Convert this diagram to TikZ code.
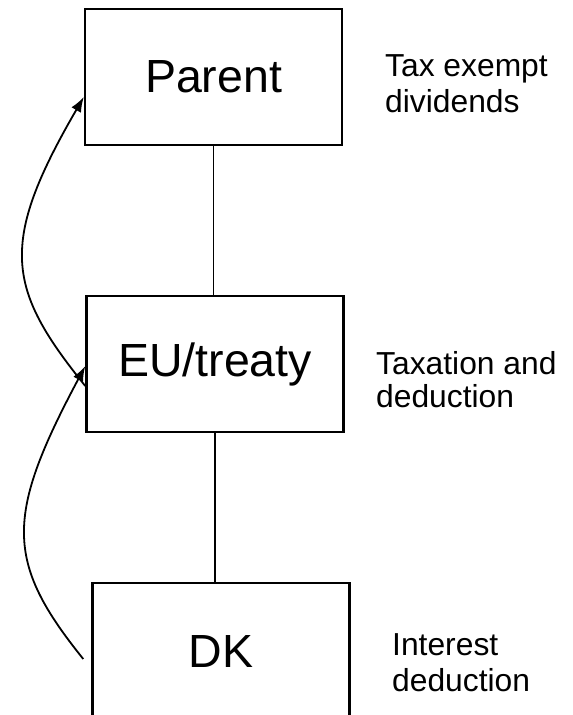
\documentclass[tikz,border=0pt]{standalone}
\usepackage{fontspec}
\setmainfont{Liberation Sans}
\usetikzlibrary{arrows.meta}
\begin{document}
\begin{tikzpicture}[x=1pt,y=-1pt,
  entity/.style={draw=black,line width=2.4pt,minimum width=257pt,minimum height=136pt,inner sep=0pt,font=\fontsize{46.5}{54}\selectfont},
  lbl/.style={anchor=base west,inner sep=0pt,font=\fontsize{31.8}{36}\selectfont},
  link/.style={draw=black,line width=1.8pt},
  flow/.style={draw=black,line width=1.8pt,-{Latex[length=15pt,width=11pt]}}]
\useasboundingbox (0,0) rectangle (573,715);
\fill[white] (0,0) rectangle (573,715);
\node[entity] (parent) at (213.5,77) {Parent};
\node[entity] (eu) at (215,364) {EU/treaty};
\node[entity] (dk) at (221,651) {DK};
\draw[link] (parent.south) -- (parent.south |- eu.north);
\draw[link] (eu.south) -- (eu.south |- dk.north);
\draw[flow] ([yshift=-22pt]eu.west) .. controls +(-78.7,-97.5) and +(-85.5,147) .. ([yshift=-20pt]parent.west);
\draw[flow] ([xshift=-8pt,yshift=-8pt]dk.west) .. controls +(-78.7,-97.5) and +(-80,150) .. ([yshift=-2pt]eu.west);
\node[lbl] (l1a) at (385,76) {Tax exempt};
\node[lbl] (l1b) at (385,112) {dividends};
\node[lbl] (l2a) at (376,374) {Taxation and};
\node[lbl] (l2b) at (376,407) {deduction};
\node[lbl] (l3a) at (392,655) {Interest};
\node[lbl] (l3b) at (392,691) {deduction};
\end{tikzpicture}
\end{document}
